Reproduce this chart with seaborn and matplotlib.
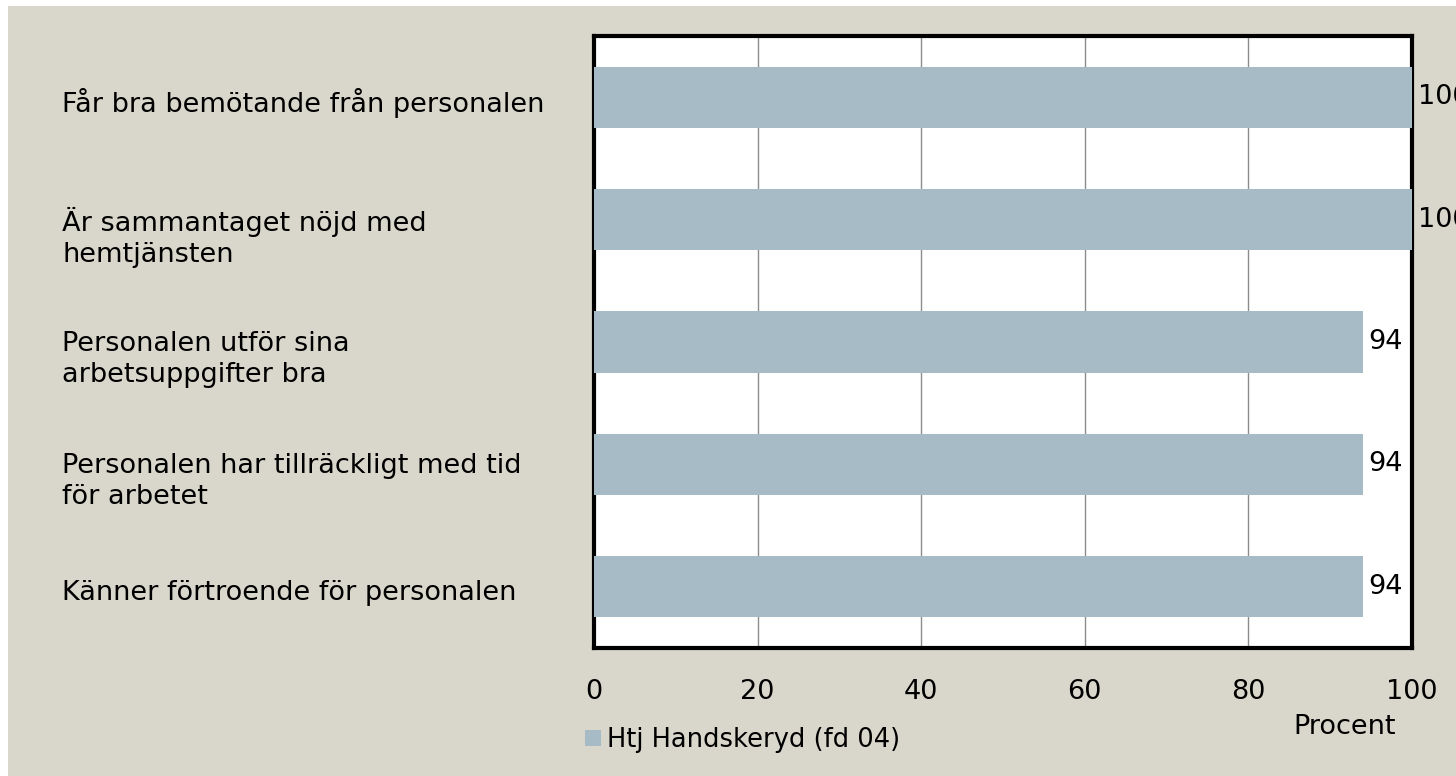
import matplotlib
matplotlib.use("Agg")
import matplotlib.pyplot as plt
import matplotlib.transforms as mtransforms
from matplotlib.patches import Rectangle
import seaborn as sns
import pandas as pd

categories = [
    "Får bra bemötande från personalen",
    "Är sammantaget nöjd med\nhemtjänsten",
    "Personalen utför sina\narbetsuppgifter bra",
    "Personalen har tillräckligt med tid\nför arbetet",
    "Känner förtroende för personalen",
]
values = [100, 100, 94, 94, 94]
series_name = "Htj Handskeryd (fd 04)"
x_ticks = [0, 20, 40, 60, 80, 100]

bg = "#D9D7CB"
bar_color = "#A7BBC6"
fs = 19.5

sns.set_style("white")
plt.rcParams["font.family"] = ["DejaVu Sans"]
plt.rcParams["text.color"] = "black"
plt.rcParams["xtick.color"] = "black"
plt.rcParams["ytick.color"] = "black"

df = pd.DataFrame({"kategori": categories, "procent": values})

W, H = 1456, 776
fig = plt.figure(figsize=(W / 100, H / 100), dpi=100, facecolor="white")
fig.patches.append(Rectangle((8 / W, 0), 1, 1 - 6 / H, transform=fig.transFigure,
                             facecolor=bg, edgecolor="none", zorder=-10))

ax = fig.add_axes([594 / W, 1 - 648 / H, (1412 - 594) / W, (648 - 36) / H])
ax.set_facecolor("white")

sns.barplot(data=df, x="procent", y="kategori", orient="h", color=bar_color,
            width=0.5, saturation=1, linewidth=0, ax=ax, zorder=3)

ax.set_xlim(0, 100)
ax.set_ylim(4.5, -0.5)
ax.set_xticks(x_ticks)
ax.grid(axis="x", color="#8C8C8C", linewidth=1.0, zorder=0)
ax.set_axisbelow(True)
for s in ax.spines.values():
    s.set_visible(True)
    s.set_color("black")
    s.set_linewidth(3)
ax.tick_params(axis="both", length=0, labelsize=fs, labelcolor="black")
ax.tick_params(axis="x", pad=22)
ax.set_xlabel("")
ax.set_ylabel("")

# left-aligned category labels at the figure's left margin
ax.tick_params(axis="y", pad=(594 - 62) * 0.72)
for lab in ax.get_yticklabels():
    dy = 12 if "\n" in lab.get_text() else 3
    shift = mtransforms.ScaledTranslation(0, -dy / 100, fig.dpi_scale_trans)
    lab.set_horizontalalignment("left")
    lab.set_linespacing(1.25)
    lab.set_transform(lab.get_transform() + shift)

for c in ax.containers:
    ax.bar_label(c, labels=[f"{v:g}" for v in values], padding=4, fontsize=fs,
                 color="black")

fig.text(1345 / W, 1 - 727 / H, "Procent", ha="center", va="center", fontsize=fs)

handle = Rectangle((0, 0), 1, 1, facecolor=bar_color, edgecolor="none")
fig.legend([handle], [series_name], loc="center left",
           bbox_to_anchor=(562 / W, 1 - 740 / H), frameon=False, fontsize=18.5,
           handlelength=0.6, handleheight=0.6, handletextpad=0.25)

fig.savefig("out.png", dpi=100, facecolor="white")
